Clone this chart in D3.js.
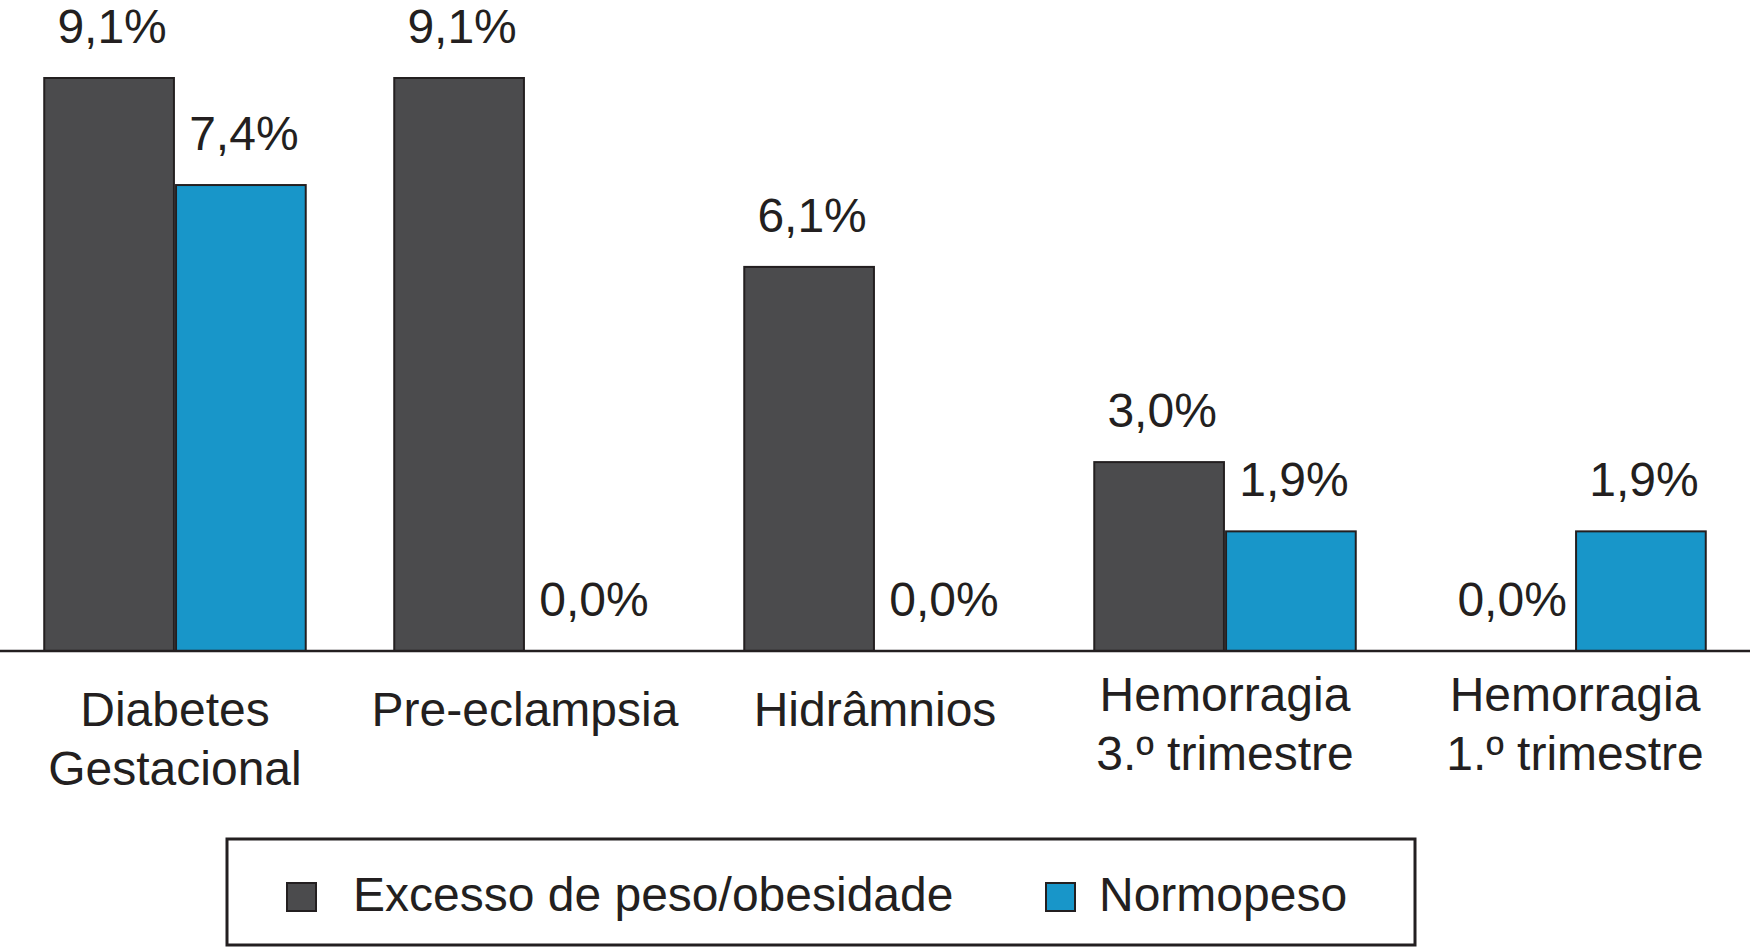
<!DOCTYPE html>
<html>
<head>
<meta charset="utf-8">
<script src="https://cdn.jsdelivr.net/npm/d3@7"></script>
<style>
  html, body { margin: 0; padding: 0; background: #fff; }
  svg { display: block; }
  text { font-family: "Liberation Sans", Arial, Helvetica, sans-serif; fill: #231f20; }
</style>
</head>
<body>
<svg id="chart" width="1750" height="947"></svg>
<script>
const categories = ["Diabetes Gestacional", "Pre-eclampsia", "Hidrâmnios", "Hemorragia 3.º trimestre", "Hemorragia 1.º trimestre"];
const categoryLines = [["Diabetes", "Gestacional"], ["Pre-eclampsia"], ["Hidrâmnios"], ["Hemorragia", "3.º trimestre"], ["Hemorragia", "1.º trimestre"]];
const seriesNames = ["Excesso de peso/obesidade", "Normopeso"];
const excessoValues = [9.1, 9.1, 6.1, 3.0, 0.0];
const normopesoValues = [7.4, 0.0, 0.0, 1.9, 1.9];
const seriesColors = ["#4b4b4d", "#1896c9"];

const svg = d3.select("#chart");
const W = 1750;
const baseY = 651;

const x0 = d3.scaleBand().domain(categories).range([0, W]).paddingInner(0.2529).paddingOuter(0.1264);
const x1 = d3.scaleBand().domain(seriesNames).range([0, x0.bandwidth()]).paddingInner(0.016);
const y = d3.scaleLinear().domain([0, 9.1]).range([baseY, 78]);

const data = categories.map((c, i) => ({
  cat: c,
  values: [
    { s: seriesNames[0], v: excessoValues[i], color: seriesColors[0] },
    { s: seriesNames[1], v: normopesoValues[i], color: seriesColors[1] }
  ]
}));

const fmt = v => v.toFixed(1).replace(".", ",") + "%";

const groups = svg.selectAll("g.grp").data(data).join("g")
  .attr("class", "grp")
  .attr("transform", d => `translate(${x0(d.cat)},0)`);

groups.selectAll("rect").data(d => d.values.filter(e => e.v > 0)).join("rect")
  .attr("x", d => x1(d.s))
  .attr("y", d => y(d.v))
  .attr("width", x1.bandwidth())
  .attr("height", d => baseY - y(d.v))
  .attr("fill", d => d.color)
  .attr("stroke", "#231f20")
  .attr("stroke-width", 2);

groups.selectAll("text.val").data(d => d.values).join("text")
  .attr("class", "val")
  .attr("x", d => x1(d.s) + x1.bandwidth() / 2 + 3)
  .attr("y", d => y(d.v) - 35)
  .attr("text-anchor", "middle")
  .attr("font-size", 48)
  .text(d => fmt(d.v));

// baseline axis
svg.append("line")
  .attr("x1", 0).attr("x2", W)
  .attr("y1", baseY).attr("y2", baseY)
  .attr("stroke", "#231f20").attr("stroke-width", 2.5);

// category labels
categories.forEach((c, i) => {
  const lines = categoryLines[i];
  const cx = x0(c) + x0.bandwidth() / 2;
  const startY = lines[0] === "Hemorragia" ? 711 : 726;
  const t = svg.append("text")
    .attr("text-anchor", "middle")
    .attr("font-size", 48);
  lines.forEach((ln, j) => {
    t.append("tspan").attr("x", cx).attr("y", startY + j * 59).text(ln);
  });
});

// legend
const legend = svg.append("g");
legend.append("rect")
  .attr("x", 227).attr("y", 839)
  .attr("width", 1188).attr("height", 106)
  .attr("fill", "#fff").attr("stroke", "#231f20").attr("stroke-width", 3);

const legendX = [287, 1046];
const legendTextX = [353, 1099];
seriesNames.forEach((s, i) => {
  legend.append("rect")
    .attr("x", legendX[i]).attr("y", 883)
    .attr("width", 29).attr("height", 28)
    .attr("fill", seriesColors[i])
    .attr("stroke", "#231f20").attr("stroke-width", 2);
  legend.append("text")
    .attr("x", legendTextX[i]).attr("y", 911)
    .attr("font-size", 48)
    .text(s);
});
</script>
</body>
</html>
